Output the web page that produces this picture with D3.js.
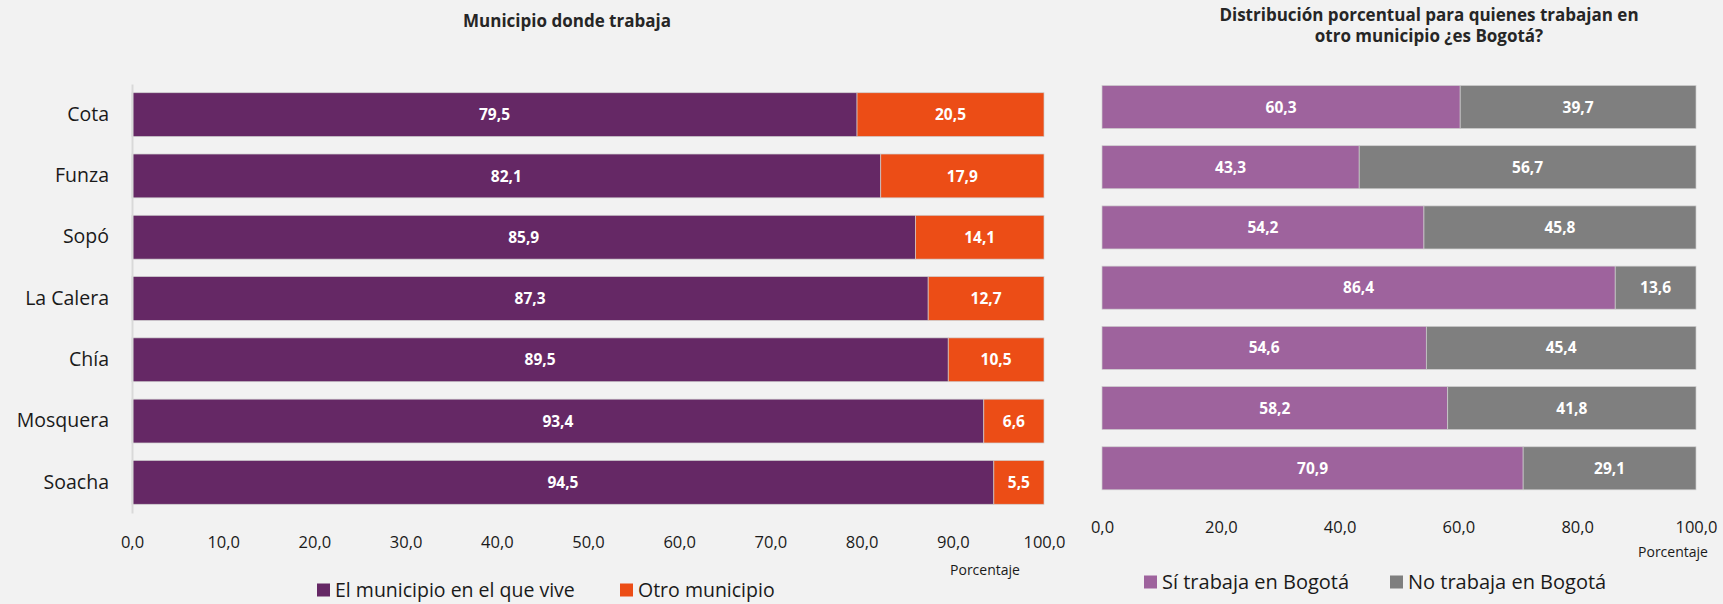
<!DOCTYPE html>
<html>
<head>
<meta charset="utf-8">
<script src="https://cdn.jsdelivr.net/npm/d3@7"></script>
<style>
  html, body { margin: 0; padding: 0; background: #f2f2f2; }
  svg { display: block; font-family: "Open Sans", "Noto Sans", sans-serif; }
</style>
</head>
<body>
<svg id="chart" width="1723" height="604"></svg>
<script>
// ---- Data ----
const categories = ["Cota", "Funza", "Sopó", "La Calera", "Chía", "Mosquera", "Soacha"];
const viveMunicipio = [79.5, 82.1, 85.9, 87.3, 89.5, 93.4, 94.5];
const otroMunicipio = [20.5, 17.9, 14.1, 12.7, 10.5, 6.6, 5.5];
const siBogota = [60.3, 43.3, 54.2, 86.4, 54.6, 58.2, 70.9];
const noBogota = [39.7, 56.7, 45.8, 13.6, 45.4, 41.8, 29.1];
const leftTicks = [0, 10, 20, 30, 40, 50, 60, 70, 80, 90, 100];
const rightTicks = [0, 20, 40, 60, 80, 100];
const leftSeries = ["El municipio en el que vive", "Otro municipio"];
const rightSeries = ["Sí trabaja en Bogotá", "No trabaja en Bogotá"];
const leftTitle = "Municipio donde trabaja";
const rightTitle = ["Distribución porcentual para quienes trabajan en", "otro municipio ¿es Bogotá?"];
const axisTitle = "Porcentaje";

const fmt = v => d3.format(".1f")(v).replace(".", ",");
const svg = d3.select("#chart");
svg.append("rect").attr("width", 1723).attr("height", 604).attr("fill", "#f2f2f2");

function stackedChart(cfg) {
  const x = d3.scaleLinear().domain([0, 100]).range(cfg.xRange);
  const y = d3.scaleBand().domain(categories).range(cfg.yRange)
    .paddingInner(0.285).paddingOuter(0.1425);
  const g = svg.append("g");

  const rows = categories.map((c, i) => ({ c, a: cfg.a[i], b: cfg.b[i] }));
  const stack = d3.stack().keys(["a", "b"])(rows);

  stack.forEach((layer, li) => {
    g.append("g").selectAll("rect").data(layer).join("rect")
      .attr("x", d => x(d[0]))
      .attr("y", d => y(d.data.c))
      .attr("width", d => x(d[1]) - x(d[0]))
      .attr("height", y.bandwidth())
      .attr("fill", cfg.colors[li])
      .attr("stroke", "#cfcfcf").attr("stroke-width", 0.7);
    g.append("g").selectAll("text").data(layer).join("text")
      .attr("x", d => (x(d[0]) + x(d[1])) / 2)
      .attr("y", d => y(d.data.c) + y.bandwidth() / 2)
      .attr("dy", "0.36em")
      .attr("text-anchor", "middle")
      .attr("fill", "#ffffff")
      .attr("font-weight", 700)
      .attr("font-size", 15.5)
      .text(d => fmt(d[1] - d[0]));
  });

  // x axis tick labels (no line)
  const ax = g.append("g").attr("transform", `translate(0,${cfg.tickY})`)
    .call(d3.axisBottom(x).tickValues(cfg.ticks).tickFormat(fmt).tickSize(0).tickPadding(0));
  ax.select(".domain").remove();
  ax.selectAll("text").attr("font-family", "Open Sans").attr("font-size", 16.5)
    .attr("fill", "#1a1a1a").attr("dy", "0.36em").attr("y", 0);

  if (cfg.showY) {
    const ay = g.append("g").attr("transform", `translate(${cfg.xRange[0]},0)`)
      .call(d3.axisLeft(y).tickSize(0).tickPadding(23));
    ay.select(".domain").attr("stroke", "#d9d9d9").attr("stroke-width", 2);
    ay.selectAll("text").attr("font-family", "Open Sans").attr("font-size", 19.5)
      .attr("fill", "#1a1a1a");
  }

  g.append("text").attr("x", cfg.axTitle[0]).attr("y", cfg.axTitle[1]).attr("dy", "0.36em")
    .attr("text-anchor", "middle").attr("font-size", 14).attr("fill", "#1a1a1a").text(axisTitle);

  // legend
  const lg = g.append("g");
  cfg.series.forEach((s, i) => {
    const lx = cfg.legend.x[i];
    lg.append("rect").attr("x", lx).attr("y", cfg.legend.y - 6.5)
      .attr("width", 13).attr("height", 13).attr("fill", cfg.colors[i]);
    lg.append("text").attr("x", lx + 18).attr("y", cfg.legend.y).attr("dy", "0.36em")
      .attr("font-size", cfg.legend.size).attr("fill", "#1a1a1a").text(s);
  });
}

stackedChart({
  a: viveMunicipio, b: otroMunicipio,
  colors: ["#652865", "#ec4d16"],
  xRange: [132, 1044], yRange: [84, 513],
  ticks: leftTicks, tickY: 542, showY: true,
  axTitle: [985, 570],
  series: leftSeries,
  legend: { x: [317, 620], y: 590, size: 19.5 }
});

stackedChart({
  a: siBogota, b: noBogota,
  colors: ["#9e639d", "#7f7f7f"],
  xRange: [1102, 1696], yRange: [76.9, 498.4],
  ticks: rightTicks, tickY: 527, showY: false,
  axTitle: [1673, 552],
  series: rightSeries,
  legend: { x: [1144, 1390], y: 582, size: 20 }
});

// titles
svg.append("text").attr("x", 567).attr("y", 21).attr("dy", "0.36em")
  .attr("text-anchor", "middle").attr("font-weight", 700).attr("font-size", 17)
  .attr("fill", "#262626").text(leftTitle);
rightTitle.forEach((t, i) => {
  svg.append("text").attr("x", 1429).attr("y", 15 + i * 21).attr("dy", "0.36em")
    .attr("text-anchor", "middle").attr("font-weight", 700).attr("font-size", 17)
    .attr("fill", "#262626").text(t);
});
</script>
</body>
</html>
